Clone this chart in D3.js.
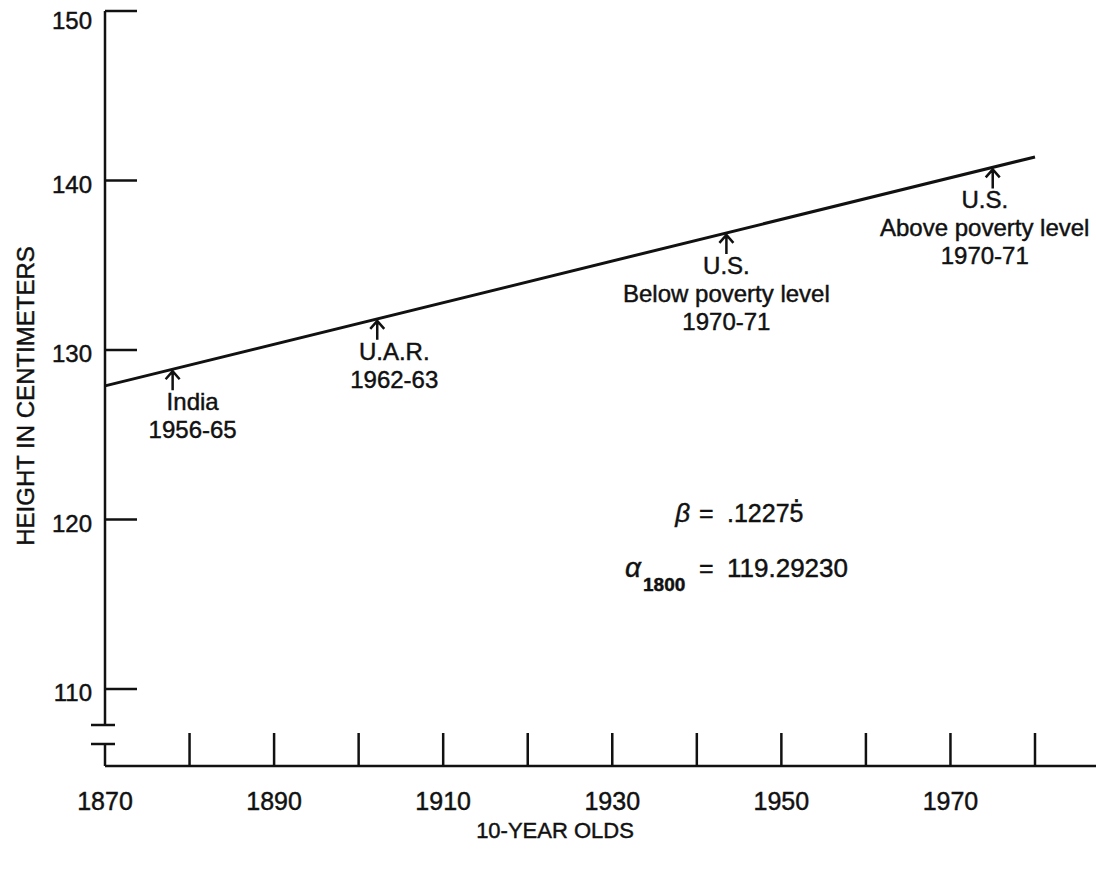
<!DOCTYPE html>
<html>
<head>
<meta charset="utf-8">
<script src="https://cdn.jsdelivr.net/npm/d3@7"></script>
<style>
  html, body { margin: 0; padding: 0; background: #fff; }
  svg { display: block; }
  text { font-family: "Liberation Sans", Arial, Helvetica, sans-serif; fill: #111; stroke: #111; stroke-width: 0.45px; }
</style>
</head>
<body>
<svg id="chart" width="1096" height="869"></svg>
<script>
// Trend of height of 10-year olds against calendar year
const alpha1800 = 119.29230;   // intercept at 1800
const beta = 0.12275;          // cm per year
const baseYear = 1800;
const lineYears = [1870, 1980];

// tick marks and labels
const xTickMarks = [1880, 1890, 1900, 1910, 1920, 1930, 1940, 1950, 1960, 1970, 1980];
const xTickLabels = [1870, 1890, 1910, 1930, 1950, 1970];
const yTicks = [110, 120, 130, 140, 150];

// populations placed on the trend line at their equivalent year
const annoYears = [1878, 1902.2, 1943.5, 1975];
const annoText = [
  ["India", "1956-65"],
  ["U.A.R.", "1962-63"],
  ["U.S.", "Below poverty level", "1970-71"],
  ["U.S.", "Above poverty level", "1970-71"]
];

const svg = d3.select("#chart");
const x = d3.scaleLinear().domain([1870, 1980]).range([105, 1035]);
const y = d3.scaleLinear().domain([110, 150]).range([689, 11]);
const fit = yr => alpha1800 + beta * (yr - baseYear);

const axisX = x(1870);
const baseY = 766;          // horizontal axis position
const breakTop = 725, breakBot = 744;
const ink = "#111";

// vertical axis with a break near the bottom
const g = svg.append("g").attr("stroke", ink).attr("stroke-width", 2.5).attr("fill", "none");
g.append("line").attr("x1", axisX).attr("x2", axisX).attr("y1", y(150)).attr("y2", breakTop);
g.append("line").attr("x1", axisX - 14).attr("x2", axisX + 10).attr("y1", breakTop).attr("y2", breakTop);
g.append("line").attr("x1", axisX - 14).attr("x2", axisX + 10).attr("y1", breakBot).attr("y2", breakBot);
g.append("line").attr("x1", axisX).attr("x2", axisX).attr("y1", breakBot).attr("y2", baseY);

// horizontal axis
g.append("line").attr("x1", axisX).attr("x2", 1096).attr("y1", baseY).attr("y2", baseY);

// y ticks point inward
g.selectAll(".yt").data(yTicks).join("line")
  .attr("x1", axisX).attr("x2", axisX + 32)
  .attr("y1", d => y(d)).attr("y2", d => y(d));

// x ticks point upward
g.selectAll(".xt").data(xTickMarks).join("line")
  .attr("x1", d => x(d)).attr("x2", d => x(d))
  .attr("y1", baseY).attr("y2", baseY - 33);

// tick labels
svg.selectAll(".yl").data(yTicks).join("text")
  .attr("x", 92).attr("y", d => Math.max(y(d) + 12, 29))
  .attr("text-anchor", "end").attr("font-size", 24)
  .text(d => d);

svg.selectAll(".xl").data(xTickLabels).join("text")
  .attr("x", d => x(d)).attr("y", 810)
  .attr("text-anchor", "middle").attr("font-size", 25)
  .text(d => d);

// axis titles
svg.append("text")
  .attr("transform", "translate(34,396) rotate(-90)")
  .attr("text-anchor", "middle").attr("font-size", 24)
  .text("HEIGHT IN CENTIMETERS");

svg.append("text")
  .attr("x", 555).attr("y", 838)
  .attr("text-anchor", "middle").attr("font-size", 22)
  .text("10-YEAR OLDS");

// fitted trend line
svg.append("path")
  .datum(lineYears)
  .attr("fill", "none").attr("stroke", ink).attr("stroke-width", 3)
  .attr("d", d3.line().x(d => x(d)).y(d => y(fit(d))));

// arrows and labels under the line
const labelDx = [20, 17, 0, -8];
const annos = annoYears.map((yr, i) => ({ yr, lines: annoText[i], dx: labelDx[i] }));

const ag = svg.selectAll(".anno").data(annos).join("g");
ag.each(function (d) {
  const sel = d3.select(this);
  const ax = x(d.yr);
  const tip = y(fit(d.yr)) + 2;
  sel.append("path")
    .attr("fill", "none").attr("stroke", ink).attr("stroke-width", 2.5)
    .attr("d", `M${ax},${tip} L${ax},${tip + 19} M${ax - 7},${tip + 8} L${ax},${tip} L${ax + 7},${tip + 8}`);
  sel.selectAll("text").data(d.lines).join("text")
    .attr("x", ax + d.dx)
    .attr("y", (t, j) => tip + 39 + j * 28)
    .attr("text-anchor", "middle").attr("font-size", 24)
    .text(t => t);
});

// regression coefficients
const eq = svg.append("g");
eq.append("text").attr("x", 690).attr("y", 522).attr("text-anchor", "end")
  .attr("font-size", 26).attr("font-style", "italic").text("\u03b2");
eq.append("text").attr("x", 699).attr("y", 522).attr("font-size", 25).text("=");
const betaStr = String(beta).replace(/^0/, "");
const betaText = eq.append("text").attr("x", 727).attr("y", 522).attr("font-size", 25);
betaText.append("tspan").text(betaStr.slice(0, -1));
betaText.append("tspan").text(betaStr.slice(-1));
// repeating-decimal dot over the last digit
betaText.append("tspan").attr("dx", -10.4).attr("dy", -20).text(".");

eq.append("text").attr("x", 641).attr("y", 577).attr("text-anchor", "end")
  .attr("font-size", 28).attr("font-style", "italic").text("\u03b1");
eq.append("text").attr("x", 643).attr("y", 591).attr("font-size", 19).attr("font-weight", "bold")
  .text(baseYear);
eq.append("text").attr("x", 699).attr("y", 577).attr("font-size", 25).text("=");
eq.append("text").attr("x", 727).attr("y", 577).attr("font-size", 26)
  .text(alpha1800.toFixed(5));
</script>
</body>
</html>
